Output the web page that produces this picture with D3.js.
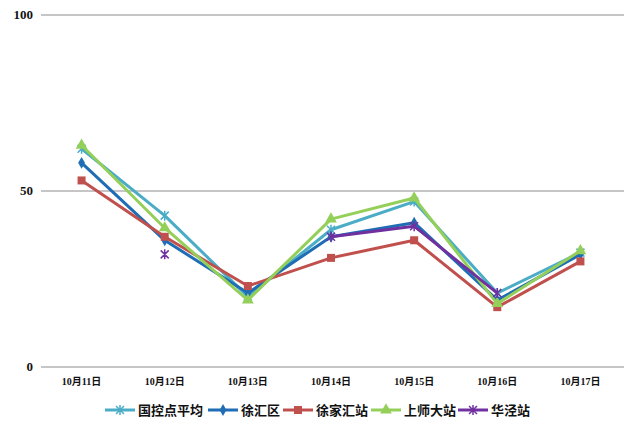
<!DOCTYPE html>
<html lang="zh">
	<head>
		<meta charset="utf-8">
		<title>PM2.5</title>
		<script src="https://d3js.org/d3.v7.min.js"></script>
		<style type="text/css">
			body { margin: 0; background: #fff; }
			text { font-family: "Liberation Serif", "Noto Sans CJK SC", serif; font-weight: bold; }
			.legend text { font-family: "Noto Sans CJK SC", sans-serif; }
		</style>
	</head>
	<body>
		<script type="text/javascript">

			//Width and height
			var w = 640;
			var h = 431;

			// data
			var dates = ["10月11日", "10月12日", "10月13日", "10月14日", "10月15日", "10月16日", "10月17日"];
			var yTicks = [0, 50, 100];
			var names = ["国控点平均", "徐汇区", "徐家汇站", "上师大站", "华泾站"];
			var guokong = [62, 43, 20, 39, 47, 21, 32.5];
			var xuhui = [58, 36, 21, 37, 41, 19, 32];
			var xujiahui = [53, 37, 23, 31, 36, 17, 30];
			var shangshida = [63, 39.5, 19, 42, 48, 18, 33];
			var huajing = [null, 32, null, 37, 40, 21, null];

			var colors = ["#4bacc6", "#1f6db5", "#c0504d", "#94cf5a", "#7030a0"];
			var shapes = ["star", "diamond", "square", "triangle", "cross"];
			var series = [guokong, xuhui, xujiahui, shangshida, huajing];

			var svg = d3.select("body")
						.append("svg")
						.attr("width", w)
						.attr("height", h);

			var x = d3.scaleBand().domain(dates).range([40, 622]);
			var y = d3.scaleLinear().domain([0, 100]).range([367, 15]);

			// grid
			svg.selectAll("line.grid")
			   .data(yTicks)
			   .enter()
			   .append("line")
			   .attr("x1", 41)
			   .attr("x2", 624)
			   .attr("y1", function(d) { return y(d); })
			   .attr("y2", function(d) { return y(d); })
			   .attr("stroke", "#8c8c8c")
			   .attr("stroke-width", 1);

			svg.selectAll("text.ytick")
			   .data(yTicks)
			   .enter()
			   .append("text")
			   .attr("x", 33)
			   .attr("y", function(d) { return y(d) + 4; })
			   .attr("text-anchor", "end")
			   .attr("font-size", 13)
			   .attr("fill", "#111")
			   .text(function(d) { return d; });

			svg.selectAll("text.xtick")
			   .data(dates)
			   .enter()
			   .append("text")
			   .attr("x", function(d) { return x(d) + x.bandwidth() / 2; })
			   .attr("y", 385)
			   .attr("text-anchor", "middle")
			   .attr("font-size", 10)
			   .attr("fill", "#111")
			   .text(function(d) { return d; });

			function marker(g, shape, color) {
				if (shape == "diamond") {
					g.append("path").attr("d", d3.symbol(d3.symbolDiamond, 40)()).attr("fill", color);
				} else if (shape == "square") {
					g.append("rect").attr("x", -4).attr("y", -4).attr("width", 8).attr("height", 8).attr("fill", color);
				} else if (shape == "triangle") {
					g.append("path").attr("d", d3.symbol(d3.symbolTriangle, 60)()).attr("fill", color);
				} else if (shape == "cross") {
					g.append("path").attr("d", "M-4,-4L4,4M-4,4L4,-4M0,-5L0,5")
					 .attr("stroke", color).attr("stroke-width", 1.5).attr("fill", "none");
				} else {
					g.append("path").attr("d", "M-4,-4L4,4M-4,4L4,-4M0,-5L0,5")
					 .attr("stroke", color).attr("stroke-width", 1.5).attr("fill", "none");
				}
			}

			var line = d3.line()
						.defined(function(d) { return d != null; })
						.x(function(d, i) { return x(dates[i]) + x.bandwidth() / 2; })
						.y(function(d) { return y(d); });

			series.forEach(function(s, k) {
				svg.append("path")
				   .attr("d", line(s))
				   .attr("fill", "none")
				   .attr("stroke", colors[k])
				   .attr("stroke-width", 3)
				   .attr("stroke-linejoin", "round");
				s.forEach(function(v, i) {
					if (v == null) return;
					var g = svg.append("g")
						.attr("transform", "translate(" + (x(dates[i]) + x.bandwidth() / 2) + "," + y(v) + ")");
					marker(g, shapes[k], colors[k]);
				});
			});

			// legend
			var legX = [105, 208, 283, 371, 458];
			var legend = svg.append("g").attr("class", "legend");
			names.forEach(function(n, k) {
				var g = legend.append("g").attr("transform", "translate(" + legX[k] + ",410)");
				g.append("line").attr("x1", 0).attr("x2", 30).attr("y1", 0).attr("y2", 0)
				 .attr("stroke", colors[k]).attr("stroke-width", 3);
				var m = g.append("g").attr("transform", "translate(15,0)");
				marker(m, shapes[k], colors[k]);
				g.append("text").attr("x", 33).attr("y", 5)
				 .attr("font-size", 13).attr("fill", "#111").text(n);
			});
		</script>
	</body>
</html>
